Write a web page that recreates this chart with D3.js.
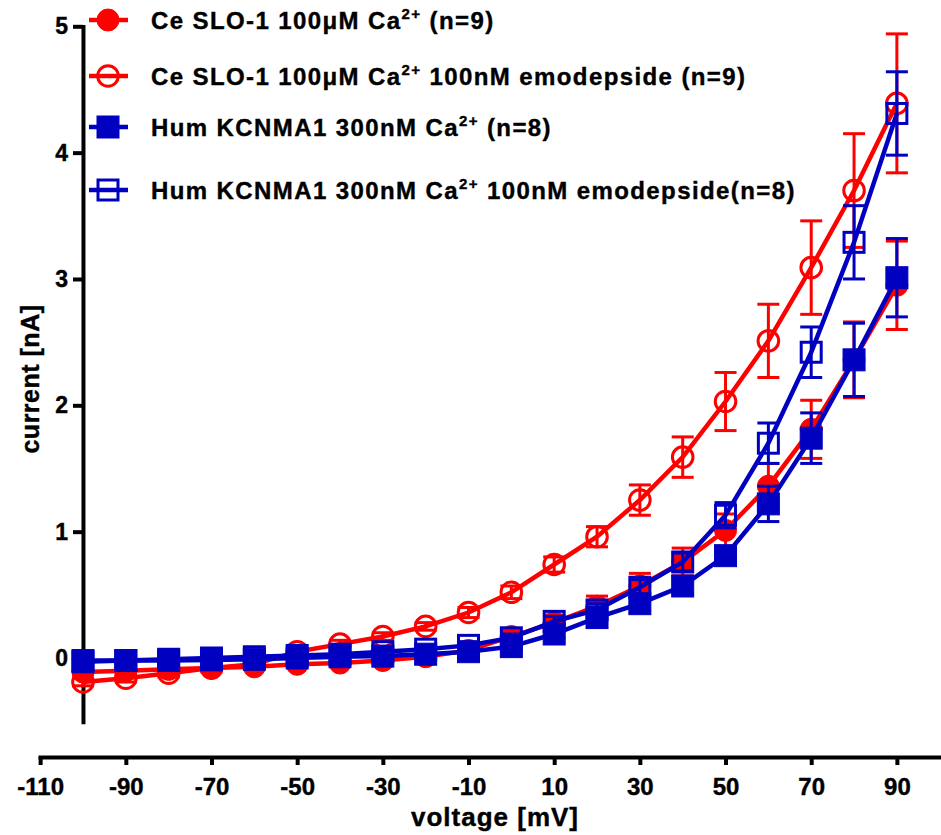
<!DOCTYPE html>
<html>
<head>
<meta charset="utf-8">
<script src="https://cdn.jsdelivr.net/npm/d3@7"></script>
<style>
  body { margin: 0; background: #fff; }
  text { font-family: "Liberation Sans", Arial, sans-serif; font-weight: bold; stroke: #000; stroke-width: 0.4px; }
</style>
</head>
<body>
<svg width="941" height="835"></svg>
<script>
var voltages = [-100, -90, -80, -70, -60, -50, -40, -30, -20, -10, 0, 10, 20, 30, 40, 50, 60, 70, 80, 90];

// Ce SLO-1 100uM Ca2+
var ceCtrl = [-0.11, -0.10, -0.09, -0.08, -0.07, -0.05, -0.04, -0.02, 0.01, 0.06, 0.17, 0.28, 0.41, 0.57, 0.76, 1.01, 1.36, 1.81, 2.36, 2.95];
var ceCtrlErr = [0.02, 0.02, 0.02, 0.02, 0.02, 0.02, 0.02, 0.02, 0.03, 0.03, 0.04, 0.06, 0.08, 0.10, 0.11, 0.13, 0.18, 0.23, 0.30, 0.35];
// Ce SLO-1 100uM Ca2+ + emodepside
var ceEmo = [-0.19, -0.16, -0.12, -0.08, -0.05, 0.05, 0.11, 0.17, 0.25, 0.36, 0.52, 0.74, 0.96, 1.25, 1.59, 2.03, 2.51, 3.09, 3.70, 4.39];
var ceEmoErr = [0.03, 0.03, 0.03, 0.03, 0.03, 0.03, 0.03, 0.03, 0.03, 0.04, 0.05, 0.06, 0.08, 0.12, 0.16, 0.23, 0.29, 0.37, 0.45, 0.55];
// Hum KCNMA1 300nM Ca2+
var humCtrl = [-0.03, -0.02, -0.02, -0.015, -0.01, 0.0, 0.01, 0.015, 0.03, 0.05, 0.09, 0.19, 0.32, 0.43, 0.57, 0.81, 1.22, 1.74, 2.36, 3.01];
var humCtrlErr = [0.02, 0.02, 0.02, 0.02, 0.02, 0.02, 0.02, 0.02, 0.02, 0.02, 0.03, 0.03, 0.04, 0.05, 0.06, 0.07, 0.14, 0.20, 0.29, 0.31];
// Hum KCNMA1 300nM Ca2+ + emodepside
var humEmo = [-0.02, -0.02, -0.01, 0.0, 0.01, 0.02, 0.03, 0.05, 0.07, 0.10, 0.16, 0.29, 0.38, 0.56, 0.76, 1.13, 1.70, 2.42, 3.29, 4.31];
var humEmoErr = [0.02, 0.02, 0.02, 0.02, 0.02, 0.02, 0.02, 0.02, 0.02, 0.02, 0.03, 0.04, 0.05, 0.06, 0.07, 0.10, 0.16, 0.20, 0.29, 0.33];

var xTicks = [-110, -90, -70, -50, -30, -10, 10, 30, 50, 70, 90];
var yTicks = [0, 1, 2, 3, 4, 5];

var legendLabels = [
  ["Ce SLO-1 100\u03bcM Ca", "2+", " (n=9)"],
  ["Ce SLO-1 100\u03bcM Ca", "2+", " 100nM emodepside (n=9)"],
  ["Hum KCNMA1 300nM Ca", "2+", " (n=8)"],
  ["Hum KCNMA1 300nM Ca", "2+", " 100nM emodepside(n=8)"]
];

var red = "#ff0000", blue = "#0000c0";

var series = [
  {values: ceCtrl, err: ceCtrlErr, color: red, shape: "circle", filled: true},
  {values: ceEmo, err: ceEmoErr, color: red, shape: "circle", filled: false},
  {values: humCtrl, err: humCtrlErr, color: blue, shape: "square", filled: true},
  {values: humEmo, err: humEmoErr, color: blue, shape: "square", filled: false}
];

var svg = d3.select("svg");

var x = d3.scaleLinear().domain([-110.5, 100.3]).range([38, 941]);
var y = d3.scaleLinear().domain([-0.52, 5.015]).range([723.7, 24.4]);

var plain = function(d) { return String(d); };

// axes
var yAxis = svg.append("g")
    .attr("transform", "translate(" + x(-100) + ",0)")
    .call(d3.axisLeft(y).tickValues(yTicks).tickFormat(plain).tickSize(10).tickSizeOuter(0).tickPadding(5));
var xAxis = svg.append("g")
    .attr("transform", "translate(0,757)")
    .call(d3.axisBottom(x).tickValues(xTicks).tickFormat(plain).tickSize(8).tickSizeOuter(0).tickPadding(13));

[xAxis, yAxis].forEach(function(ax, k) {
  ax.select(".domain").attr("stroke", "#000").attr("stroke-width", 4);
  ax.selectAll(".tick line").attr("stroke", "#000").attr("stroke-width", 4);
  ax.selectAll(".tick text")
      .attr("fill", "#000")
      .style("font-size", (k === 0 ? 24 : 23) + "px")
      .style("font-family", "'Liberation Sans', Arial, sans-serif")
      .style("font-weight", "bold");
});

svg.append("text")
    .attr("x", 495)
    .attr("y", 826)
    .attr("text-anchor", "middle")
    .style("font-size", "26px")
    .attr("letter-spacing", 1)
    .text("voltage [mV]");

svg.append("text")
    .attr("transform", "translate(39,379) rotate(-90)")
    .attr("text-anchor", "middle")
    .style("font-size", "25px")
    .attr("letter-spacing", 0.5)
    .text("current [nA]");

function drawMarker(sel, s) {
  if (s.shape === "circle") {
    sel.append("circle")
        .attr("r", s.filled ? 11 : 10.3)
        .attr("fill", s.filled ? s.color : "none")
        .attr("stroke", s.color)
        .attr("stroke-width", s.filled ? 1 : 3);
  } else {
    var h = s.filled ? 11 : 10;
    sel.append("rect")
        .attr("x", -h).attr("y", -h)
        .attr("width", 2 * h).attr("height", 2 * h)
        .attr("fill", s.filled ? s.color : "none")
        .attr("stroke", s.color)
        .attr("stroke-width", s.filled ? 1 : 3);
  }
}

var line = d3.line()
    .x(function(d) { return x(d.v); })
    .y(function(d) { return y(d.i); });

series.forEach(function(s) {
  var pts = voltages.map(function(v, k) { return {v: v, i: s.values[k], e: s.err[k]}; });
  var g = svg.append("g");

  // error bars
  var eb = g.append("g").attr("stroke", s.color).attr("stroke-width", 3);
  pts.forEach(function(d) {
    var cx = x(d.v), t = y(d.i + d.e), b = y(d.i - d.e);
    eb.append("line").attr("x1", cx).attr("x2", cx).attr("y1", t).attr("y2", b);
    eb.append("line").attr("x1", cx - 11).attr("x2", cx + 11).attr("y1", t).attr("y2", t);
    eb.append("line").attr("x1", cx - 11).attr("x2", cx + 11).attr("y1", b).attr("y2", b);
  });

  g.append("path")
      .datum(pts)
      .attr("fill", "none")
      .attr("stroke", s.color)
      .attr("stroke-width", 4.5)
      .attr("d", line);

  g.selectAll(".pt")
      .data(pts)
      .enter().append("g")
      .attr("class", "pt")
      .attr("transform", function(d) { return "translate(" + x(d.v) + "," + y(d.i) + ")"; })
      .each(function() { drawMarker(d3.select(this), s); });
});

// legend
var legendY = [20, 76, 127, 190];
series.forEach(function(s, k) {
  var lg = svg.append("g").attr("transform", "translate(0," + legendY[k] + ")");
  lg.append("line")
      .attr("x1", 89).attr("x2", 128)
      .attr("stroke", s.color).attr("stroke-width", 4.5);
  var m = lg.append("g").attr("transform", "translate(108,0)");
  drawMarker(m, s);
  var parts = legendLabels[k];
  var t = lg.append("text")
      .attr("x", 151)
      .attr("y", 9)
      .style("font-size", "24px")
      .attr("letter-spacing", 1.4)
      .attr("fill", "#000");
  t.append("tspan").text(parts[0]);
  t.append("tspan").attr("dy", -10).style("font-size", "15px").text(parts[1]);
  t.append("tspan").attr("dy", 10).text(parts[2]);
});
</script>
</body>
</html>
